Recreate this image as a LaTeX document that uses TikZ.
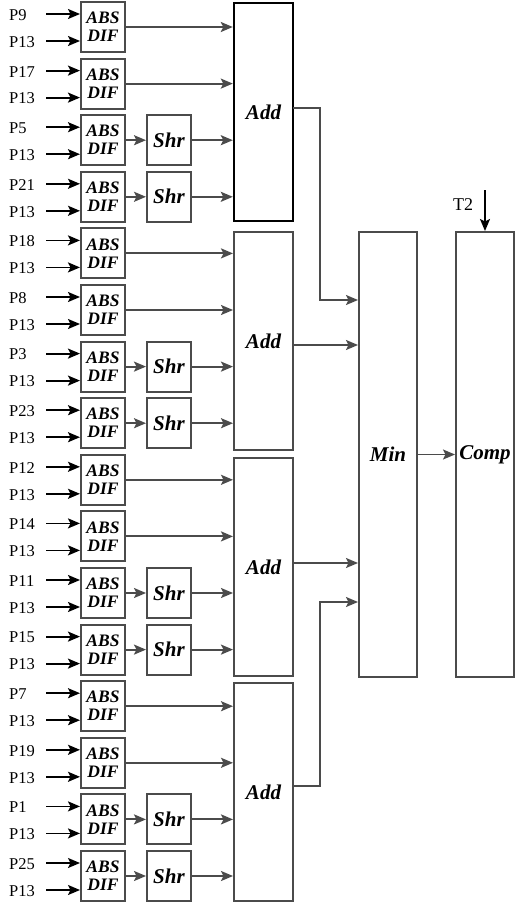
\documentclass[tikz,border=0pt]{standalone}
\usepackage{fontspec}
\setmainfont{Liberation Serif}
\usetikzlibrary{arrows.meta,calc}
\definecolor{lc}{RGB}{75,75,75}
\begin{document}
\begin{tikzpicture}[x=1pt,y=-1pt,
  box/.style={draw=lc, line width=2pt, inner sep=0pt, fill=white},
  bigtxt/.style={font=\fontsize{21}{22}\selectfont\bfseries\itshape},
  abstxt/.style={align=center, font=\fontsize{17.5}{18}\selectfont\bfseries\itshape},
  lab/.style={anchor=west, inner sep=0pt, font=\fontsize{16.5}{17}\selectfont},
  arr/.style={draw=lc, line width=1.9pt, -{Stealth[length=12pt,width=10pt,inset=2.5pt]}},
  inarr/.style={draw=black, line width=1.8pt, -{Stealth[length=12pt,width=10pt,inset=2.5pt]}},
  wire/.style={draw=lc, line width=1.9pt}]
\useasboundingbox (0,0) rectangle (515,905);
% adders
\node[box, draw=black, line width=2.4pt, minimum width=59pt, minimum height=218pt, bigtxt] (add1) at (263.5,112) {Add};
\node[box, minimum width=59pt, minimum height=218pt, bigtxt] (add2) at (263.5,341) {Add};
\node[box, minimum width=59pt, minimum height=218pt, bigtxt] (add3) at (263.5,567) {Add};
\node[box, minimum width=59pt, minimum height=218pt, bigtxt] (add4) at (263.5,792) {Add};
% min and comp
\node[box, minimum width=58pt, minimum height=445pt, bigtxt] (min) at (388,454.5) {Min};
\node[box, minimum width=58pt, minimum height=445pt, bigtxt] (comp) at (485,454.5) {Comp};
\node[inner sep=0pt, font=\fontsize{18}{19}\selectfont] (t2) at (463,205) {T2};
\coordinate (t2s) at (485,190);
\draw[inarr] (t2s) -- (comp.north);
\draw[arr] (min.east |- comp) -- (comp.west);
% adder outputs
\coordinate (o1) at (293,108);
\coordinate (j1) at (320,108);
\coordinate (m1) at (320,300);
\draw[arr] (o1) -- (j1) -- (m1) -- (m1 -| min.west);
\coordinate (o2) at (293,345);
\draw[arr] (o2) -- (o2 -| min.west);
\coordinate (o3) at (293,563);
\draw[arr] (o3) -- (o3 -| min.west);
\coordinate (o4) at (293,786);
\coordinate (j4) at (320,786);
\coordinate (m4) at (320,602);
\draw[arr] (o4) -- (j4) -- (m4) -- (m4 -| min.west);
% rows
\foreach \a [count=\i from 0] in {9,17,5,21,18,8,3,23,12,14,11,15,7,19,1,25}{
  \pgfmathsetmacro\t{2+56.6*\i}
  \pgfmathtruncatemacro\k{floor(\i/4)+1}
  \pgfmathtruncatemacro\r{mod(\i,4)}
  \node[box, minimum width=44pt, minimum height=50pt, abstxt] (ad\i) at (103,{\t+25}) {ABS\\DIF};
  \coordinate (ia\i) at (46,{\t+12});
  \coordinate (ib\i) at (46,{\t+39});
  \node[lab] (la\i) at (9,{\t+13}) {P\a};
  \node[lab] (lb\i) at (9,{\t+40}) {P13};
  \draw[inarr] (ia\i) -- (ia\i -| ad\i.west);
  \draw[inarr] (ib\i) -- (ib\i -| ad\i.west);
  \ifnum\r<2
    \draw[arr] (ad\i.east) -- (ad\i.east -| add\k.west);
  \else
    \node[box, minimum width=44pt, minimum height=50pt, bigtxt] (sh\i) at (169,{\t+25}) {Shr};
    \draw[arr] (ad\i.east) -- (sh\i.west);
    \draw[arr] (sh\i.east) -- (sh\i.east -| add\k.west);
  \fi
}
\end{tikzpicture}
\end{document}
